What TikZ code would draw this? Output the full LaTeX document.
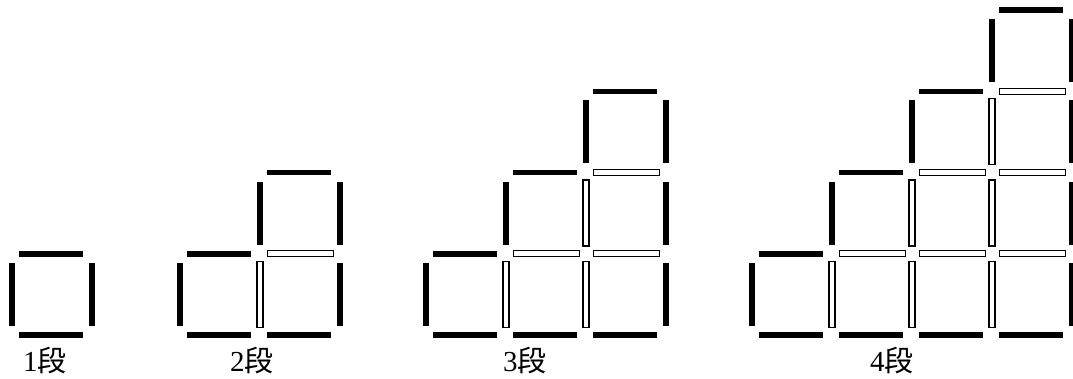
\documentclass[tikz,border=0pt]{standalone}
\usepackage{fontspec}
\setmainfont{Liberation Serif}
\newfontfamily\cjk{Noto Sans CJK JP}
\tikzset{
  blk/.style={fill=black,draw=none},
  hol/.style={fill=white,draw=black,line width=1.3pt},
  lbl/.style={anchor=base west,inner sep=0pt,font=\fontsize{29}{29}\selectfont}
}
\newcommand\hblk[2]{\fill[blk] (#1+7,#2-2.75) rectangle (#1+71,#2+2.75);}
\newcommand\hhol[2]{\draw[hol] (#1+7.5,#2-3) rectangle (#1+73.5,#2+3);}
\newcommand\vblk[2]{\fill[blk] (#1-3,#2+9) rectangle (#1+3,#2+72);}
\newcommand\vhol[2]{\draw[hol] (#1-3,#2+7.5) rectangle (#1+3,#2+73.5);}
% #1 = n-1, #2 = left x
\newcommand\drawstair[2]{%
  \foreach \c in {0,...,#1}{%
    \pgfmathsetmacro\xx{#2+80*\c}%
    \hblk{\xx}{335}%
    \pgfmathsetmacro\yt{335-81.25*(\c+1)}%
    \hblk{\xx}{\yt}%
    \ifnum\c>0
      \foreach \k in {1,...,\c}{\pgfmathsetmacro\yk{335-81.25*\k}\hhol{\xx}{\yk}}%
    \fi
  }%
  \vblk{#2}{253.75}%
  \ifnum#1>0
    \foreach \i in {1,...,#1}{%
      \pgfmathsetmacro\xx{#2+80*\i}%
      \foreach \r in {1,...,\i}{\pgfmathsetmacro\yy{335-81.25*\r}\vhol{\xx}{\yy}}%
      \pgfmathsetmacro\yy{335-81.25*(\i+1)}%
      \vblk{\xx}{\yy}%
    }%
  \fi
  \pgfmathsetmacro\xx{#2+80*(#1+1)}%
  \pgfmathtruncatemacro\nn{#1+1}%
  \foreach \r in {1,...,\nn}{\pgfmathsetmacro\yy{335-81.25*\r}\vblk{\xx}{\yy}}%
}
\begin{document}
\begin{tikzpicture}[x=1pt,y=-1pt]
\useasboundingbox (0,0) rectangle (1073,378);
\drawstair{0}{12}
\drawstair{1}{180}
\drawstair{2}{426}
\drawstair{3}{752}
\node[lbl] (l1) at (23,371) {1{\cjk 段}};
\node[lbl] (l2) at (230,371) {2{\cjk 段}};
\node[lbl] (l3) at (503,371) {3{\cjk 段}};
\node[lbl] (l4) at (870,371) {4{\cjk 段}};
\end{tikzpicture}
\end{document}
